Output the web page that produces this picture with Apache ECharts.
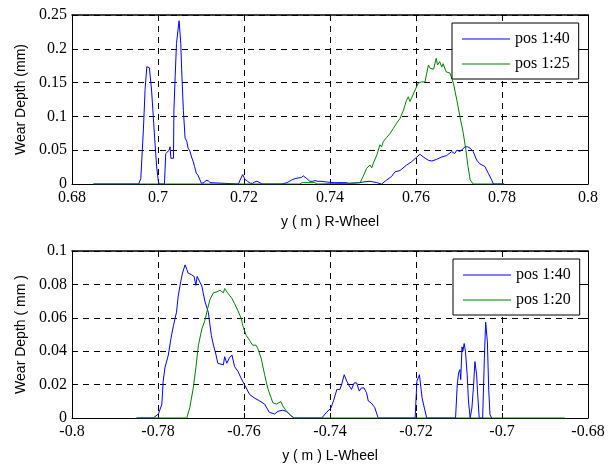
<!DOCTYPE html>
<html>
<head>
<meta charset="utf-8">
<script src="https://cdn.jsdelivr.net/npm/echarts@6/dist/echarts.min.js"></script>
<style>html,body{margin:0;padding:0;background:#fff;}#c{width:614px;height:464px;}</style>
</head>
<body>
<div id="c"></div>
<script>
// ---- Top panel (R-Wheel) ----
const rTicksX = [0.68, 0.7, 0.72, 0.74, 0.76, 0.78, 0.8];
const rTicksY = [0, 0.05, 0.1, 0.15, 0.2, 0.25];
const r40X = [0.685,0.6955,0.6960,0.6966,0.6970,0.6974,0.6980,0.6985,0.6989,0.6993,0.6997,0.7001,0.7003,0.7015,0.7018,0.7022,0.7026,0.7028,0.7030,0.7036,0.7037,0.7040,0.7043,0.7049,0.7053,0.7055,0.7059,0.7063,0.7067,0.7070,0.7074,0.7078,0.7082,0.7085,0.7089,0.7093,0.7097,0.7101,0.7107,0.7111,0.7117,0.7121,0.7124,0.7187,0.7191,0.7197,0.7202,0.7208,0.7215,0.7220,0.7225,0.7230,0.7237,0.7242,0.7288,0.7300,0.7311,0.7319,0.7326,0.7333,0.7338,0.7346,0.7353,0.7360,0.7365,0.7372,0.7379,0.7392,0.7410,0.7437,0.7445,0.7470,0.7477,0.7493,0.7509,0.7520,0.7532,0.7543,0.7551,0.7563,0.7578,0.7590,0.7602,0.7609,0.7617,0.7629,0.7637,0.7648,0.7660,0.7663,0.7671,0.7683,0.7690,0.7695,0.7702,0.7714,0.7720,0.7726,0.7733,0.7741,0.7748,0.7752,0.7760,0.7768,0.7776,0.7780,0.7805];
const r40Y = [0,0,0.008,0.08,0.14,0.1735,0.172,0.139,0.10,0.06,0.025,0.003,0,0,0.045,0.044,0.05,0.055,0.038,0.038,0.109,0.16,0.208,0.2415,0.208,0.169,0.109,0.068,0.063,0.053,0.049,0.040,0.033,0.026,0.016,0.013,0.011,0.001,0.002,0.005,0.005,0.002,0,0,0.006,0.014,0.007,0.004,0.001,0.001,0.003,0.004,0.002,0,0,0.002,0.006,0.008,0.009,0.0095,0.012,0.008,0.004,0.004,0.005,0.004,0.004,0.003,0.002,0.002,0.001,0.002,0.003,0.004,0.002,0,0.006,0.011,0.018,0.020,0.028,0.033,0.040,0.044,0.040,0.035,0.034,0.0365,0.040,0.042,0.042,0.048,0.045,0.050,0.048,0.055,0.055,0.053,0.048,0.0355,0.030,0.031,0.026,0.016,0.006,0,0];
const r25X = [0.685,0.7330,0.7335,0.7365,0.7370,0.7445,0.7470,0.7477,0.7485,0.7493,0.7497,0.7501,0.7509,0.7516,0.7520,0.7524,0.7532,0.7540,0.7547,0.7555,0.7563,0.7567,0.7571,0.7578,0.7582,0.7586,0.7590,0.7598,0.7605,0.7613,0.7621,0.7625,0.7629,0.7633,0.7637,0.7641,0.7647,0.7650,0.7655,0.7660,0.7663,0.7670,0.7679,0.7687,0.7695,0.7702,0.7710,0.7716,0.7721,0.7726,0.7733,0.7805];
const r25Y = [0,0,0.002,0.002,0,0.001,0.002,0.011,0.023,0.028,0.024,0.031,0.043,0.058,0.055,0.063,0.069,0.075,0.082,0.090,0.097,0.097,0.1095,0.124,0.129,0.122,0.124,0.139,0.149,0.151,0.151,0.164,0.176,0.171,0.173,0.170,0.186,0.176,0.181,0.173,0.178,0.166,0.164,0.149,0.124,0.100,0.075,0.050,0.026,0.006,0,0];

// ---- Bottom panel (L-Wheel) ----
const lTicksX = [-0.8, -0.78, -0.76, -0.74, -0.72, -0.7, -0.68];
const lTicksY = [0, 0.02, 0.04, 0.06, 0.08, 0.1];
const l40X = [-0.785,-0.7811,-0.7799,-0.7791,-0.7788,-0.7784,-0.7776,-0.7774,-0.7770,-0.7764,-0.7757,-0.7753,-0.7747,-0.7743,-0.7737,-0.7733,-0.7730,-0.7722,-0.7716,-0.7712,-0.7709,-0.7705,-0.7698,-0.7695,-0.7691,-0.7688,-0.7683,-0.7680,-0.7676,-0.7671,-0.7665,-0.7661,-0.7648,-0.7645,-0.7640,-0.7634,-0.7628,-0.7622,-0.7614,-0.7607,-0.7599,-0.7587,-0.7576,-0.7564,-0.7552,-0.7541,-0.7529,-0.7521,-0.7510,-0.7502,-0.7489,-0.7483,-0.7419,-0.7408,-0.7398,-0.7392,-0.7384,-0.7377,-0.7373,-0.7367,-0.7361,-0.7355,-0.7350,-0.7344,-0.7338,-0.7332,-0.7327,-0.7321,-0.7315,-0.7311,-0.7304,-0.7296,-0.7288,-0.7202,-0.7198,-0.7192,-0.7190,-0.7186,-0.7180,-0.7175,-0.7108,-0.7104,-0.7101,-0.7098,-0.7096,-0.7093,-0.7091,-0.7088,-0.7085,-0.7081,-0.7078,-0.7074,-0.7070,-0.7066,-0.7063,-0.7059,-0.7057,-0.7053,-0.7045,-0.7041,-0.7038,-0.7034,-0.7031,-0.7028,-0.7024];
const l40Y = [0,0,0.0024,0.0083,0.022,0.030,0.0377,0.037,0.0475,0.0554,0.0633,0.073,0.0819,0.0868,0.0917,0.089,0.0868,0.0858,0.0847,0.0794,0.0848,0.0848,0.079,0.075,0.070,0.071,0.0633,0.0574,0.0495,0.0436,0.0377,0.0328,0.0318,0.0367,0.0328,0.036,0.0377,0.0308,0.0279,0.024,0.020,0.0141,0.012,0.0103,0.0083,0.0034,0.0024,0.004,0.0047,0.004,0.001,0,0,0.0034,0.0059,0.0102,0.0171,0.0171,0.020,0.0259,0.022,0.0191,0.0171,0.021,0.021,0.0161,0.018,0.018,0.0151,0.0102,0.009,0.0063,0,0,0.022,0.0259,0.025,0.0122,0.0053,0,0,0.020,0.0269,0.029,0.023,0.0426,0.040,0.0446,0.040,0.0259,0.0102,0,0.006,0.020,0.0338,0.0259,0.016,0,0,0.0357,0.0574,0.0456,0.018,0.002,0];
const l20X = [-0.785,-0.7733,-0.7726,-0.7718,-0.7712,-0.7706,-0.7698,-0.7691,-0.7685,-0.7679,-0.7671,-0.7663,-0.7656,-0.7648,-0.7645,-0.7637,-0.7629,-0.7622,-0.7614,-0.7606,-0.7603,-0.7595,-0.7587,-0.7580,-0.7572,-0.7568,-0.7560,-0.7552,-0.7545,-0.7533,-0.7525,-0.7514,-0.7510,-0.7502,-0.7491,-0.7483,-0.6854];
const l20Y = [0,0,0.0063,0.018,0.030,0.0436,0.0534,0.0583,0.065,0.0711,0.075,0.0755,0.0765,0.075,0.0775,0.0745,0.072,0.0685,0.0642,0.0593,0.0554,0.0495,0.0465,0.0436,0.0436,0.0416,0.0357,0.0259,0.018,0.0092,0.0083,0.0098,0.0073,0.0044,0.0014,0,0];

const names = ['pos 1:40', 'pos 1:25', 'pos 1:20'];

function zip(xs, ys) { return xs.map((x, i) => [x, ys[i]]); }
const fmt = v => String(+(+v).toFixed(3));

const BLUE = '#0000ff', GREEN = '#008000';
const serif = 'Liberation Serif';
const sans = 'Liberation Sans';

function mainX(gi, ticks, name) {
  return {
    type: 'value', gridIndex: gi, position: 'bottom',
    min: ticks[0], max: ticks[ticks.length - 1], interval: +(ticks[1] - ticks[0]).toFixed(3),
    name: name, nameLocation: 'middle', nameGap: 31,
    nameTextStyle: { fontFamily: sans, fontSize: 14, color: '#000' },
    axisLine: { show: true, onZero: false, lineStyle: { color: '#000', width: 1 } },
    axisTick: { show: true, inside: true, length: 5, lineStyle: { color: '#000' } },
    axisLabel: { formatter: fmt, fontFamily: serif, fontSize: 16, color: '#000', margin: 6 },
    splitLine: { show: true, lineStyle: { color: '#000', type: [6, 5], width: 1 } }
  };
}
function topX(gi, ticks) {
  return {
    type: 'value', gridIndex: gi, position: 'top',
    min: ticks[0], max: ticks[ticks.length - 1], interval: +(ticks[1] - ticks[0]).toFixed(3),
    axisLine: { show: true, onZero: false, lineStyle: { color: '#000', width: 1.5 } },
    axisTick: { show: true, inside: true, length: 5, lineStyle: { color: '#000' } },
    axisLabel: { show: false }, splitLine: { show: false }
  };
}
function mainY(gi, ticks, name) {
  return {
    type: 'value', gridIndex: gi, position: 'left',
    min: ticks[0], max: ticks[ticks.length - 1], interval: +(ticks[1] - ticks[0]).toFixed(3),
    name: name, nameLocation: 'middle', nameGap: 44,
    nameTextStyle: { fontFamily: sans, fontSize: 14, color: '#000' },
    axisLine: { show: true, onZero: false, lineStyle: { color: '#000', width: 1 } },
    axisTick: { show: true, inside: true, length: 5, lineStyle: { color: '#000' } },
    axisLabel: { formatter: fmt, fontFamily: serif, fontSize: 16, color: '#000', margin: 5 },
    splitLine: { show: true, lineStyle: { color: '#000', type: [6, 5], width: 1 } }
  };
}
function rightY(gi, ticks) {
  return {
    type: 'value', gridIndex: gi, position: 'right',
    min: ticks[0], max: ticks[ticks.length - 1], interval: +(ticks[1] - ticks[0]).toFixed(3),
    axisLine: { show: true, onZero: false, lineStyle: { color: '#000', width: 1 } },
    axisTick: { show: true, inside: true, length: 5, lineStyle: { color: '#000' } },
    axisLabel: { show: false }, splitLine: { show: false }
  };
}
function legend(left, top, data) {
  return {
    left: left, top: top, orient: 'vertical', data: data,
    backgroundColor: '#fff', borderColor: '#000', borderWidth: 1,
    padding: [8, 9, 7, 10], itemWidth: 48, itemHeight: 14, itemGap: 9,
    icon: 'path://M0,6.5 L48,6.5 L48,7.5 L0,7.5 Z',
    textStyle: { fontFamily: serif, fontSize: 16, color: '#000', padding: [0, 0, 0, 0] },
    selectedMode: false
  };
}
function line(name, xi, yi, data, color) {
  return {
    type: 'line', name: name, xAxisIndex: xi, yAxisIndex: yi, data: data,
    symbol: 'none', showSymbol: false, animation: false,
    lineStyle: { color: color, width: 1 }, itemStyle: { color: color }
  };
}

const chart = echarts.init(document.getElementById('c'), null, { renderer: 'canvas' });
chart.setOption({
  animation: false,
  backgroundColor: '#fff',
  grid: [
    { left: 72, top: 15, width: 516, height: 169, show: false },
    { left: 72, top: 251, width: 516, height: 170, show: false }
  ],
  xAxis: [
    mainX(0, rTicksX, 'y ( m ) R-Wheel'), topX(0, rTicksX),
    mainX(1, lTicksX, 'y ( m ) L-Wheel'), topX(1, lTicksX)
  ],
  yAxis: [
    mainY(0, rTicksY, 'Wear Depth (mm)'), rightY(0, rTicksY),
    mainY(1, lTicksY, 'Wear Depth ( mm )'), rightY(1, lTicksY)
  ],
  legend: [
    legend(452, 23, [names[0], names[1]]),
    legend(453, 259, [names[0], names[2]])
  ],
  series: [
    line(names[0], 0, 0, zip(r40X, r40Y), BLUE),
    line(names[1], 0, 0, zip(r25X, r25Y), GREEN),
    line(names[0], 2, 2, zip(l40X, l40Y), BLUE),
    line(names[2], 2, 2, zip(l20X, l20Y), GREEN)
  ]
});
</script>
</body>
</html>
